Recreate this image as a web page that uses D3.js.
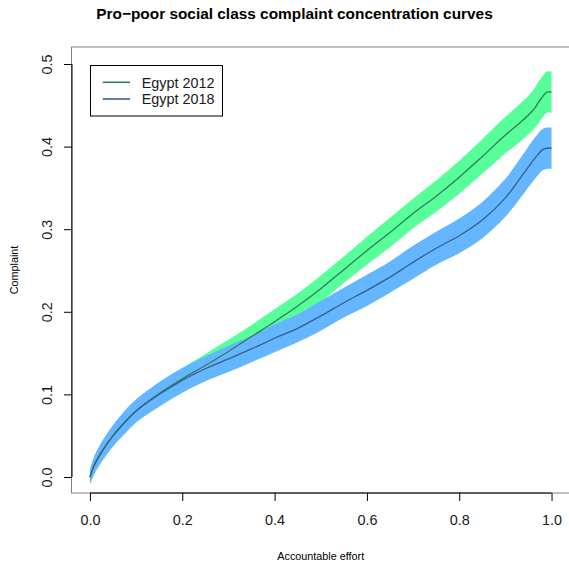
<!DOCTYPE html>
<html>
<head>
<meta charset="utf-8">
<script src="https://cdn.jsdelivr.net/npm/d3@7"></script>
<style>
  body { margin: 0; background: #fff; }
  svg text { font-family: "Liberation Sans", Arial, Helvetica, sans-serif; }
</style>
</head>
<body>
<div id="chart"></div>
<script>
// accountable effort (x) grid
const effort = [0, 0.01, 0.025, 0.05, 0.075, 0.1, 0.15, 0.2, 0.25, 0.3, 0.35, 0.4, 0.45, 0.5,
  0.55, 0.6, 0.65, 0.7, 0.75, 0.8, 0.85, 0.9, 0.93, 0.96, 0.97, 0.98, 0.99, 1.0];

// Egypt 2012
const egypt2012 = [0, 0.015, 0.030, 0.050, 0.066, 0.080, 0.101, 0.119, 0.135, 0.152, 0.170, 0.188, 0.207, 0.228,
  0.251, 0.274, 0.296, 0.319, 0.340, 0.363, 0.388, 0.414, 0.428, 0.444, 0.452, 0.460, 0.466, 0.466];
const egypt2012Upper = [0.009, 0.025, 0.041, 0.062, 0.078, 0.093, 0.114, 0.132, 0.149, 0.166, 0.184, 0.203, 0.222, 0.244,
  0.267, 0.291, 0.314, 0.337, 0.359, 0.383, 0.409, 0.436, 0.451, 0.468, 0.477, 0.485, 0.491, 0.491];
const egypt2012Lower = [-0.009, 0.005, 0.019, 0.038, 0.054, 0.067, 0.088, 0.106, 0.122, 0.138, 0.156, 0.173, 0.192, 0.212,
  0.235, 0.257, 0.278, 0.301, 0.321, 0.343, 0.367, 0.392, 0.405, 0.420, 0.427, 0.435, 0.441, 0.441];

// Egypt 2018
const egypt2018 = [0, 0.015, 0.030, 0.050, 0.066, 0.080, 0.100, 0.117, 0.131, 0.143, 0.155, 0.168, 0.180, 0.195,
  0.211, 0.226, 0.242, 0.260, 0.277, 0.292, 0.311, 0.338, 0.360, 0.383, 0.390, 0.396, 0.398, 0.398];
const egypt2018Upper = [0.009, 0.026, 0.042, 0.063, 0.080, 0.094, 0.115, 0.132, 0.146, 0.159, 0.171, 0.185, 0.197, 0.213,
  0.229, 0.245, 0.261, 0.280, 0.297, 0.313, 0.333, 0.361, 0.384, 0.408, 0.415, 0.421, 0.423, 0.423];
const egypt2018Lower = [-0.009, 0.004, 0.018, 0.037, 0.052, 0.066, 0.085, 0.102, 0.116, 0.127, 0.139, 0.151, 0.163, 0.177,
  0.193, 0.207, 0.223, 0.240, 0.257, 0.271, 0.289, 0.315, 0.336, 0.358, 0.365, 0.371, 0.373, 0.373];

const xTicks = [0, 0.2, 0.4, 0.6, 0.8, 1.0];
const yTicks = [0, 0.1, 0.2, 0.3, 0.4, 0.5];
const legendLabels = ["Egypt 2012", "Egypt 2018"];

const width = 569, height = 561;
// plot region (R style, axes extended 4%)
const plot = {left: 71.5, right: 570, top: 47, bottom: 493};

const svg = d3.select("#chart").append("svg")
  .attr("width", width)
  .attr("height", height);

const xScale = d3.scaleLinear().domain([-0.04, 1.04]).range([plot.left, plot.right]);
const yScale = d3.scaleLinear().domain([-0.0194, 0.5206]).range([plot.bottom, plot.top]);

const series = [
  {name: legendLabels[0], mid: egypt2012, lo: egypt2012Lower, hi: egypt2012Upper, band: "#57fe9a", line: "#2e7f55"},
  {name: legendLabels[1], mid: egypt2018, lo: egypt2018Lower, hi: egypt2018Upper, band: "#63b6ff", line: "#365f88"}
];

const area = d3.area()
  .x(d => xScale(d.x))
  .y0(d => yScale(d.lo))
  .y1(d => yScale(d.hi))
  .curve(d3.curveCatmullRom.alpha(0.5));

const line = d3.line()
  .x(d => xScale(d.x))
  .y(d => yScale(d.y))
  .curve(d3.curveCatmullRom.alpha(0.5));

// bands first
series.forEach(s => {
  const pts = effort.map((x, i) => ({x: x, lo: s.lo[i], hi: s.hi[i]}));
  svg.append("path")
    .datum(pts)
    .attr("d", area)
    .attr("fill", s.band);
});

// center lines
series.forEach(s => {
  const pts = effort.map((x, i) => ({x: x, y: s.mid[i]}));
  svg.append("path")
    .datum(pts)
    .attr("d", line)
    .attr("fill", "none")
    .attr("stroke", s.line)
    .attr("stroke-width", 1.3);
});

// box
svg.append("rect")
  .attr("x", plot.left)
  .attr("y", plot.top)
  .attr("width", plot.right - plot.left)
  .attr("height", plot.bottom - plot.top)
  .attr("fill", "none")
  .attr("stroke", "#808080")
  .attr("stroke-width", 1);

// x axis
const xAxis = d3.axisBottom(xScale)
  .tickValues(xTicks)
  .tickSize(8)
  .tickFormat(d3.format(".1f"));

const gx = svg.append("g")
  .attr("transform", `translate(0,${plot.bottom})`)
  .call(xAxis);
gx.select(".domain").remove();
gx.append("line")
  .attr("x1", xScale(0)).attr("x2", xScale(1))
  .attr("stroke", "#000");
gx.selectAll(".tick line").attr("stroke", "#000");
gx.selectAll(".tick text")
  .attr("y", 32)
  .attr("dy", 0)
  .attr("fill", "#1a1a1a")
  .style("font-size", "14.4px");

// y axis
const yAxis = d3.axisLeft(yScale)
  .tickValues(yTicks)
  .tickSize(8)
  .tickFormat(d3.format(".1f"));

const gy = svg.append("g")
  .attr("transform", `translate(${plot.left + 0.5},0)`)
  .call(yAxis);
gy.select(".domain").remove();
gy.append("line")
  .attr("y1", yScale(0)).attr("y2", yScale(0.5))
  .attr("stroke", "#000");
gy.selectAll(".tick line").attr("stroke", "#000");
gy.selectAll(".tick text")
  .attr("transform", "rotate(-90)")
  .attr("x", 0)
  .attr("y", -20)
  .attr("dy", 0)
  .attr("text-anchor", "middle")
  .attr("fill", "#1a1a1a")
  .style("font-size", "14.4px");

// title
svg.append("text")
  .attr("x", 294.5)
  .attr("y", 18.5)
  .attr("text-anchor", "middle")
  .style("font-size", "15.4px")
  .style("font-weight", "bold")
  .text("Pro\u2212poor social class complaint concentration curves");

// axis titles
svg.append("text")
  .attr("x", (plot.left + plot.right) / 2)
  .attr("y", 559.5)
  .attr("text-anchor", "middle")
  .style("font-size", "10.8px")
  .text("Accountable effort");

svg.append("text")
  .attr("transform", `translate(18,${(plot.top + plot.bottom) / 2}) rotate(-90)`)
  .attr("text-anchor", "middle")
  .style("font-size", "10.8px")
  .text("Complaint");

// legend
const legend = svg.append("g");
legend.append("rect")
  .attr("x", 90.5).attr("y", 65.5)
  .attr("width", 132).attr("height", 50.5)
  .attr("fill", "#fff")
  .attr("stroke", "#000");

const legendY = [82.3, 99];
series.forEach((s, i) => {
  legend.append("line")
    .attr("x1", 102.7).attr("x2", 130)
    .attr("y1", legendY[i]).attr("y2", legendY[i])
    .attr("stroke", s.line)
    .attr("stroke-width", 1.6);
  legend.append("text")
    .attr("x", 141.7)
    .attr("y", legendY[i] + 5.2)
    .style("font-size", "14.4px")
    .attr("fill", "#1a1a1a")
    .text(s.name);
});
</script>
</body>
</html>
